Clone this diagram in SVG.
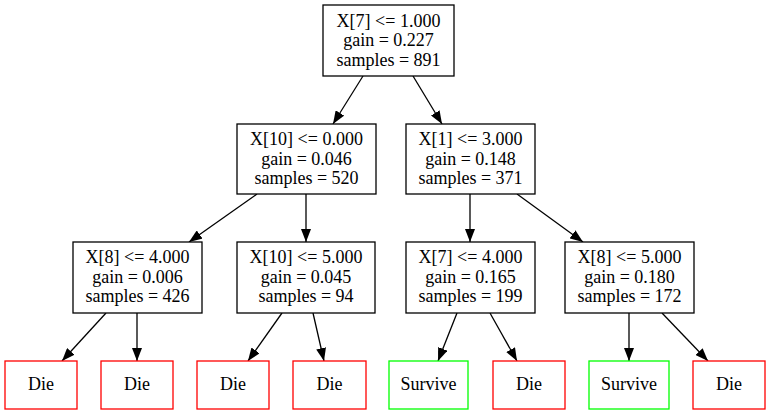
<svg xmlns="http://www.w3.org/2000/svg" width="771" height="415" viewBox="0 0 771 415">
<style>
text{font-family:"Liberation Serif","DejaVu Serif","Times New Roman",serif;font-size:18px;text-anchor:middle;fill:#000}
.n rect{fill:#fff;stroke:#000;stroke-width:1.3}
.die rect{fill:#fff;stroke:#ff0000;stroke-width:1.3}
.sur rect{fill:#fff;stroke:#00ff00;stroke-width:1.3}
#edges line{stroke:#000;stroke-width:1.3}
</style>
<defs>
<marker id="ah" viewBox="0 0 13 10" refX="13" refY="5" markerWidth="13" markerHeight="10" markerUnits="userSpaceOnUse" orient="auto">
<path d="M0,0 L13,5 L0,10 Z" fill="#000"/>
</marker>
</defs>
<rect width="771" height="415" fill="#fff"/>
<g id="edges">
<line x1="363" y1="76" x2="333" y2="124" marker-end="url(#ah)"/>
<line x1="413" y1="76" x2="442" y2="124" marker-end="url(#ah)"/>
<line x1="257" y1="194" x2="189" y2="242" marker-end="url(#ah)"/>
<line x1="306" y1="194" x2="306" y2="242" marker-end="url(#ah)"/>
<line x1="470" y1="194" x2="470" y2="242" marker-end="url(#ah)"/>
<line x1="517" y1="194" x2="583" y2="242" marker-end="url(#ah)"/>
<line x1="106" y1="313" x2="62" y2="361" marker-end="url(#ah)"/>
<line x1="137" y1="313" x2="137" y2="361" marker-end="url(#ah)"/>
<line x1="282" y1="313" x2="248" y2="361" marker-end="url(#ah)"/>
<line x1="313" y1="313" x2="324" y2="361" marker-end="url(#ah)"/>
<line x1="457" y1="313" x2="438" y2="361" marker-end="url(#ah)"/>
<line x1="490" y1="313" x2="517" y2="361" marker-end="url(#ah)"/>
<line x1="629" y1="313" x2="629" y2="361" marker-end="url(#ah)"/>
<line x1="662" y1="313" x2="708" y2="361" marker-end="url(#ah)"/>
</g>
<g id="n0" class="n"><rect x="323" y="5" width="131" height="71"/>
<text x="388.5" y="26.5">X[7] &lt;= 1.000</text><text x="388.5" y="46">gain = 0.227</text><text x="388.5" y="65.5">samples = 891</text></g>
<g id="n1" class="n"><rect x="237" y="124" width="139" height="70"/>
<text x="306.5" y="145">X[10] &lt;= 0.000</text><text x="306.5" y="164.5">gain = 0.046</text><text x="306.5" y="184">samples = 520</text></g>
<g id="n2" class="n"><rect x="406" y="124" width="129" height="70"/>
<text x="470.5" y="145">X[1] &lt;= 3.000</text><text x="470.5" y="164.5">gain = 0.148</text><text x="470.5" y="184">samples = 371</text></g>
<g id="n3" class="n"><rect x="73" y="242" width="129" height="71"/>
<text x="137.5" y="263">X[8] &lt;= 4.000</text><text x="137.5" y="282.5">gain = 0.006</text><text x="137.5" y="302">samples = 426</text></g>
<g id="n4" class="n"><rect x="237" y="242" width="138" height="71"/>
<text x="306" y="263">X[10] &lt;= 5.000</text><text x="306" y="282.5">gain = 0.045</text><text x="306" y="302">samples = 94</text></g>
<g id="n5" class="n"><rect x="406" y="242" width="129" height="71"/>
<text x="470.5" y="263">X[7] &lt;= 4.000</text><text x="470.5" y="282.5">gain = 0.165</text><text x="470.5" y="302">samples = 199</text></g>
<g id="n6" class="n"><rect x="565" y="242" width="129" height="71"/>
<text x="629.5" y="263">X[8] &lt;= 5.000</text><text x="629.5" y="282.5">gain = 0.180</text><text x="629.5" y="302">samples = 172</text></g>
<g id="l1" class="die"><rect x="5" y="361" width="72" height="48"/><text x="41" y="390">Die</text></g>
<g id="l2" class="die"><rect x="101" y="361" width="72" height="48"/><text x="137" y="390">Die</text></g>
<g id="l3" class="die"><rect x="197" y="361" width="72" height="48"/><text x="233" y="390">Die</text></g>
<g id="l4" class="die"><rect x="293" y="361" width="73" height="48"/><text x="329.5" y="390">Die</text></g>
<g id="l5" class="sur"><rect x="389" y="361" width="79" height="48"/><text x="428.5" y="390">Survive</text></g>
<g id="l6" class="die"><rect x="493" y="361" width="72" height="48"/><text x="529" y="390">Die</text></g>
<g id="l7" class="sur"><rect x="589" y="361" width="80" height="48"/><text x="629" y="390">Survive</text></g>
<g id="l8" class="die"><rect x="693" y="361" width="72" height="48"/><text x="729" y="390">Die</text></g>
</svg>
